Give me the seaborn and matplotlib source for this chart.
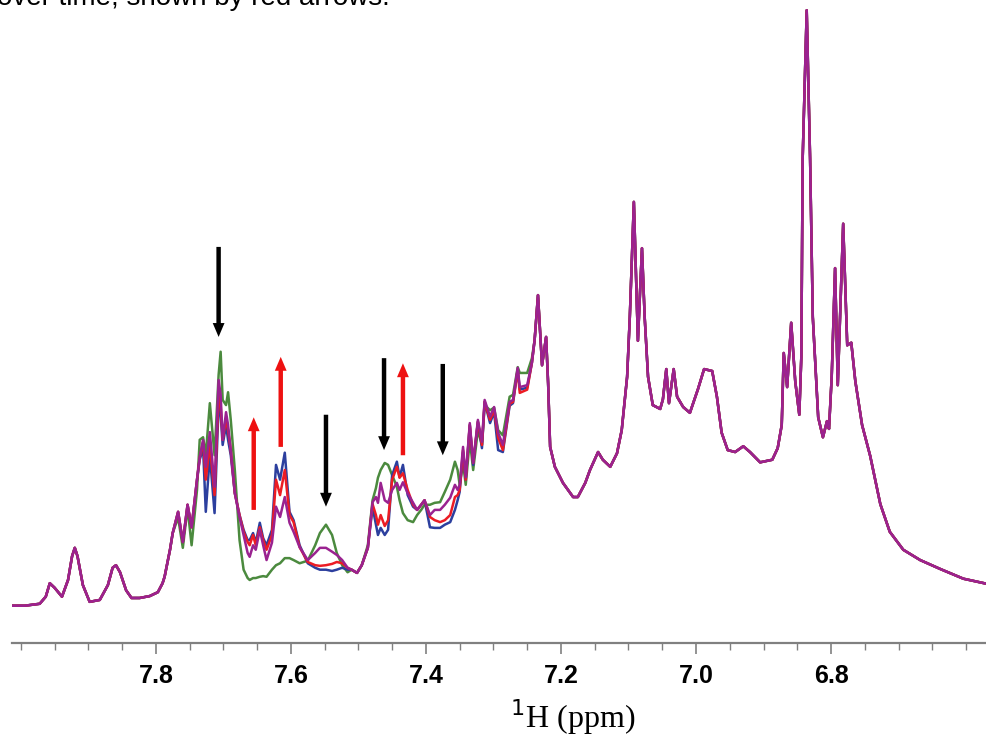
"""
1H NMR spectrum overlay (aromatic region) with arrows marking
signals that fall (black) and grow (red) over time.
"""

import numpy as np
import matplotlib
matplotlib.use("Agg")
import matplotlib.pyplot as plt
from matplotlib.ticker import MultipleLocator
import seaborn as sns

# ---- data (ppm, intensity in arbitrary units) ----
# left part of the spectrum, identical for all four traces
left_ppm = [8.013, 7.994, 7.972, 7.963, 7.957, 7.950, 7.939, 7.930, 7.924, 7.920,
            7.916, 7.908, 7.898, 7.883, 7.871, 7.864, 7.859, 7.853, 7.844, 7.836,
            7.824, 7.809, 7.797, 7.790]
left_int = [5.8, 5.8, 6.1, 7.2, 9.3, 8.6, 7.2, 9.8, 13.5, 14.8,
            13.5, 9.0, 6.4, 6.7, 9.0, 11.7, 12.1, 11.0, 8.2, 7.0,
            7.0, 7.3, 7.9, 9.3]

# region where the four time points differ
mid_ppm = [7.787, 7.779, 7.775, 7.767, 7.760, 7.753, 7.747, 7.739, 7.735, 7.730,
           7.726, 7.720, 7.713, 7.707, 7.704, 7.701, 7.696, 7.693, 7.689, 7.683,
           7.676, 7.670, 7.664, 7.661, 7.656, 7.652, 7.646, 7.641, 7.636, 7.628,
           7.622, 7.616, 7.609, 7.602, 7.596, 7.587, 7.575, 7.564, 7.557, 7.548,
           7.539, 7.532, 7.524, 7.516, 7.510, 7.502, 7.495, 7.486, 7.479, 7.474,
           7.471, 7.467, 7.461, 7.456, 7.450, 7.443, 7.439, 7.434, 7.427, 7.419,
           7.413, 7.407, 7.402, 7.394, 7.387, 7.379, 7.372, 7.364, 7.357, 7.353,
           7.350, 7.345, 7.341, 7.335, 7.330, 7.323, 7.317, 7.313, 7.305, 7.299,
           7.293, 7.286, 7.276, 7.271, 7.264, 7.261, 7.250, 7.243, 7.239]
purple_mid = [10.3, 14.5, 17.1, 20.4, 15.7, 21.5, 18.0, 25.4, 28.9, 31.6,
              27.4, 32.8, 24.3, 40.9, 38.6, 31.6, 35.9, 33.9, 30.0, 23.3,
              19.6, 16.8, 14.0, 13.4, 15.2, 14.5, 17.6, 15.2, 12.9, 15.6,
              21.2, 19.6, 22.7, 18.7, 17.3, 14.9, 12.9, 14.0, 14.8, 14.8,
              14.2, 13.7, 12.9, 11.7, 11.4, 10.9, 12.1, 14.8, 21.9, 22.7,
              21.8, 24.9, 22.2, 21.8, 23.8, 24.9, 23.8, 25.0, 23.3, 21.8,
              20.7, 21.5, 22.2, 19.9, 20.7, 20.7, 21.5, 22.6, 24.6, 23.8,
              24.6, 30.5, 25.8, 34.2, 28.0, 34.7, 31.3, 37.8, 35.2, 36.7,
              32.7, 30.8, 37.5, 37.8, 42.8, 39.8, 40.1, 43.6, 47.1]
red_mid = [10.3, 14.5, 17.1, 20.4, 15.7, 21.5, 18.0, 25.4, 28.8, 31.3,
           25.4, 30.8, 23.0, 38.6, 37.0, 31.6, 34.7, 33.1, 30.0, 23.3,
           19.9, 17.3, 15.7, 15.2, 16.8, 15.2, 18.0, 16.0, 14.5, 16.8,
           25.4, 23.0, 26.9, 19.9, 18.8, 14.9, 12.6, 12.1, 12.0, 12.1,
           12.3, 12.6, 12.4, 11.7, 11.4, 10.9, 12.1, 14.8, 21.6, 19.9,
           18.4, 19.9, 18.2, 19.1, 25.4, 27.4, 25.7, 26.4, 23.8, 21.5,
           20.7, 21.5, 22.2, 19.6, 19.1, 18.8, 19.1, 19.9, 22.7, 23.0,
           23.8, 30.0, 25.4, 33.9, 28.0, 34.4, 30.8, 37.5, 34.7, 36.2,
           31.9, 30.0, 37.2, 37.5, 42.5, 38.9, 39.4, 43.6, 47.1]
blue_mid = [10.3, 14.5, 17.1, 20.4, 15.7, 21.5, 18.0, 25.4, 28.5, 30.3,
            20.4, 29.2, 20.2, 37.0, 35.5, 30.8, 33.9, 31.6, 29.2, 23.3,
            19.9, 17.6, 16.0, 16.0, 17.1, 15.6, 18.7, 16.3, 15.2, 17.6,
            27.7, 25.4, 29.6, 20.4, 19.1, 15.2, 12.4, 11.7, 11.4, 11.4,
            11.2, 11.4, 11.7, 11.4, 11.4, 10.9, 12.1, 14.8, 21.1, 18.4,
            16.8, 17.9, 16.8, 17.6, 26.1, 28.2, 25.8, 27.7, 23.0, 21.2,
            20.7, 21.5, 22.2, 18.0, 17.9, 17.9, 18.4, 18.8, 20.7, 22.2,
            23.5, 29.7, 25.4, 33.9, 27.7, 34.4, 30.3, 37.5, 34.2, 35.9,
            30.0, 29.7, 36.9, 37.3, 42.5, 39.4, 39.7, 43.6, 47.1]
green_mid = [10.3, 14.5, 17.1, 19.5, 14.8, 21.0, 15.2, 23.8, 31.6, 32.0,
             29.2, 37.3, 29.2, 41.7, 45.3, 37.8, 37.0, 39.0, 34.7, 26.9,
             16.0, 11.4, 10.1, 9.8, 10.1, 10.1, 10.3, 10.4, 10.3, 11.4,
             12.1, 12.4, 13.2, 13.2, 12.9, 12.4, 12.8, 15.2, 17.1, 18.4,
             16.8, 14.0, 12.1, 11.0, 11.4, 10.9, 12.1, 15.2, 22.2, 24.1,
             25.7, 26.9, 28.0, 27.7, 26.1, 24.3, 22.2, 20.2, 19.1, 18.8,
             19.9, 20.7, 21.5, 21.5, 21.8, 21.9, 23.5, 25.4, 28.2, 26.9,
             24.6, 28.0, 24.6, 31.6, 26.9, 33.1, 30.8, 37.0, 36.2, 36.6,
             33.1, 32.3, 38.3, 38.6, 42.9, 42.0, 42.0, 44.3, 47.1]

# right part of the spectrum, identical for all four traces
right_ppm = [7.234, 7.228, 7.222, 7.219, 7.216, 7.209, 7.197, 7.182, 7.175, 7.164,
             7.157, 7.145, 7.138, 7.127, 7.117, 7.110, 7.102, 7.098, 7.092, 7.086,
             7.080, 7.076, 7.071, 7.064, 7.053, 7.049, 7.044, 7.040, 7.033, 7.028,
             7.019, 7.009, 6.997, 6.988, 6.976, 6.969, 6.962, 6.953, 6.942, 6.930,
             6.920, 6.905, 6.887, 6.879, 6.873, 6.870, 6.865, 6.859, 6.853, 6.847,
             6.844, 6.842, 6.836, 6.831, 6.827, 6.819, 6.812, 6.806, 6.803, 6.799,
             6.794, 6.790, 6.782, 6.776, 6.770, 6.764, 6.754, 6.742, 6.727, 6.713,
             6.693, 6.668, 6.638, 6.604, 6.569]
right_int = [54.1, 43.2, 47.6, 40.4, 30.5, 27.4, 24.9, 22.7, 22.7, 24.9,
             26.9, 29.7, 28.5, 27.4, 29.5, 33.1, 41.4, 50.7, 68.6, 47.0,
             61.4, 50.7, 41.4, 37.0, 36.4, 37.9, 42.6, 37.3, 42.6, 38.3,
             36.7, 35.8, 39.5, 42.6, 42.3, 38.3, 32.7, 30.0, 29.7, 30.6,
             29.7, 28.1, 28.5, 30.3, 33.9, 45.1, 39.8, 49.8, 40.7, 35.5,
             44.5, 75.3, 98.4, 75.3, 50.7, 35.1, 32.0, 34.5, 33.3, 41.4,
             58.3, 40.1, 65.2, 46.3, 46.7, 40.7, 33.9, 29.1, 21.6, 17.3,
             14.5, 12.9, 11.5, 10.0, 9.2]

# arrows: ppm position, tail intensity, head intensity
down_ppm = [7.707, 7.548, 7.462, 7.375]
down_from = [61.6, 35.5, 44.3, 43.4]
down_to = [47.6, 21.2, 30.0, 29.2]
up_ppm = [7.655, 7.615, 7.434]
up_from = [20.7, 30.5, 29.2]
up_to = [35.1, 44.5, 43.5]

tick_ppm = [7.8, 7.6, 7.4, 7.2, 7.0, 6.8]

# traces, drawn in this order (last on top)
traces = [
    ("green", green_mid, "#4b8a3e"),
    ("blue", blue_mid, "#2c3f9e"),
    ("red", red_mid, "#ec1c24"),
    ("purple", purple_mid, "#9a2290"),
]

sns.set_style("white")
plt.rcParams['font.family'] = ['Liberation Sans', 'DejaVu Sans']


def draw_arrow(ax, x, y0, y1, color):
    ax.annotate("", xy=(x, y1), xytext=(x, y0),
                arrowprops=dict(arrowstyle="simple,head_length=1.0,head_width=0.85,tail_width=0.32",
                                mutation_scale=10, color=color, lw=0,
                                shrinkA=0, shrinkB=0))


def plot_spectrum():
    fig = plt.figure(figsize=(9.87, 7.42), dpi=100)
    ax = fig.add_axes([12 / 987, 99 / 742, 975 / 987, 643 / 742])

    for name, mid, color in traces:
        x = np.concatenate([left_ppm, mid_ppm, right_ppm])
        y = np.concatenate([left_int, mid, right_int])
        sns.lineplot(x=x, y=y, color=color, lw=1.8, ax=ax,
                     sort=False, estimator=None)

    for x, y0, y1 in zip(down_ppm, down_from, down_to):
        draw_arrow(ax, x, y0, y1, "black")
    for x, y0, y1 in zip(up_ppm, up_from, up_to):
        draw_arrow(ax, x, y0, y1, "#ee1111")

    # NMR convention: ppm decreases to the right
    ax.set_xlim(8.013, 6.569)
    ax.set_ylim(0, 100)

    ax.set_xticks(tick_ppm)
    ax.set_xticklabels([f"{t:.1f}" for t in tick_ppm], fontweight='bold',
                       fontsize=18, color='black')
    ax.xaxis.set_minor_locator(MultipleLocator(0.05))
    ax.tick_params(axis='x', which='both', bottom=True)
    ax.tick_params(axis='x', which='major', direction='out', length=8, width=1.2,
                   color='#808080', pad=7)
    ax.tick_params(axis='x', which='minor', direction='out', length=5, width=1.0,
                   color='#808080')
    ax.set_yticks([])
    for side in ['left', 'top', 'right']:
        ax.spines[side].set_visible(False)
    ax.spines['bottom'].set_color('#808080')
    ax.spines['bottom'].set_linewidth(1.6)

    ax.set_xlabel(r"$^{1}$H (ppm)", family=['Liberation Serif', 'DejaVu Serif'],
                  fontsize=23, color='black')
    ax.xaxis.set_label_coords(0.575, -0.085)

    # caption text running off the top of the figure
    fig.text(-0.003, 1 - 5 / 742, "over time, shown by red arrows.",
             fontsize=20, va='baseline', ha='left', color='black')

    fig.savefig("out.png", dpi=100)
    plt.close(fig)


if __name__ == "__main__":
    plot_spectrum()
